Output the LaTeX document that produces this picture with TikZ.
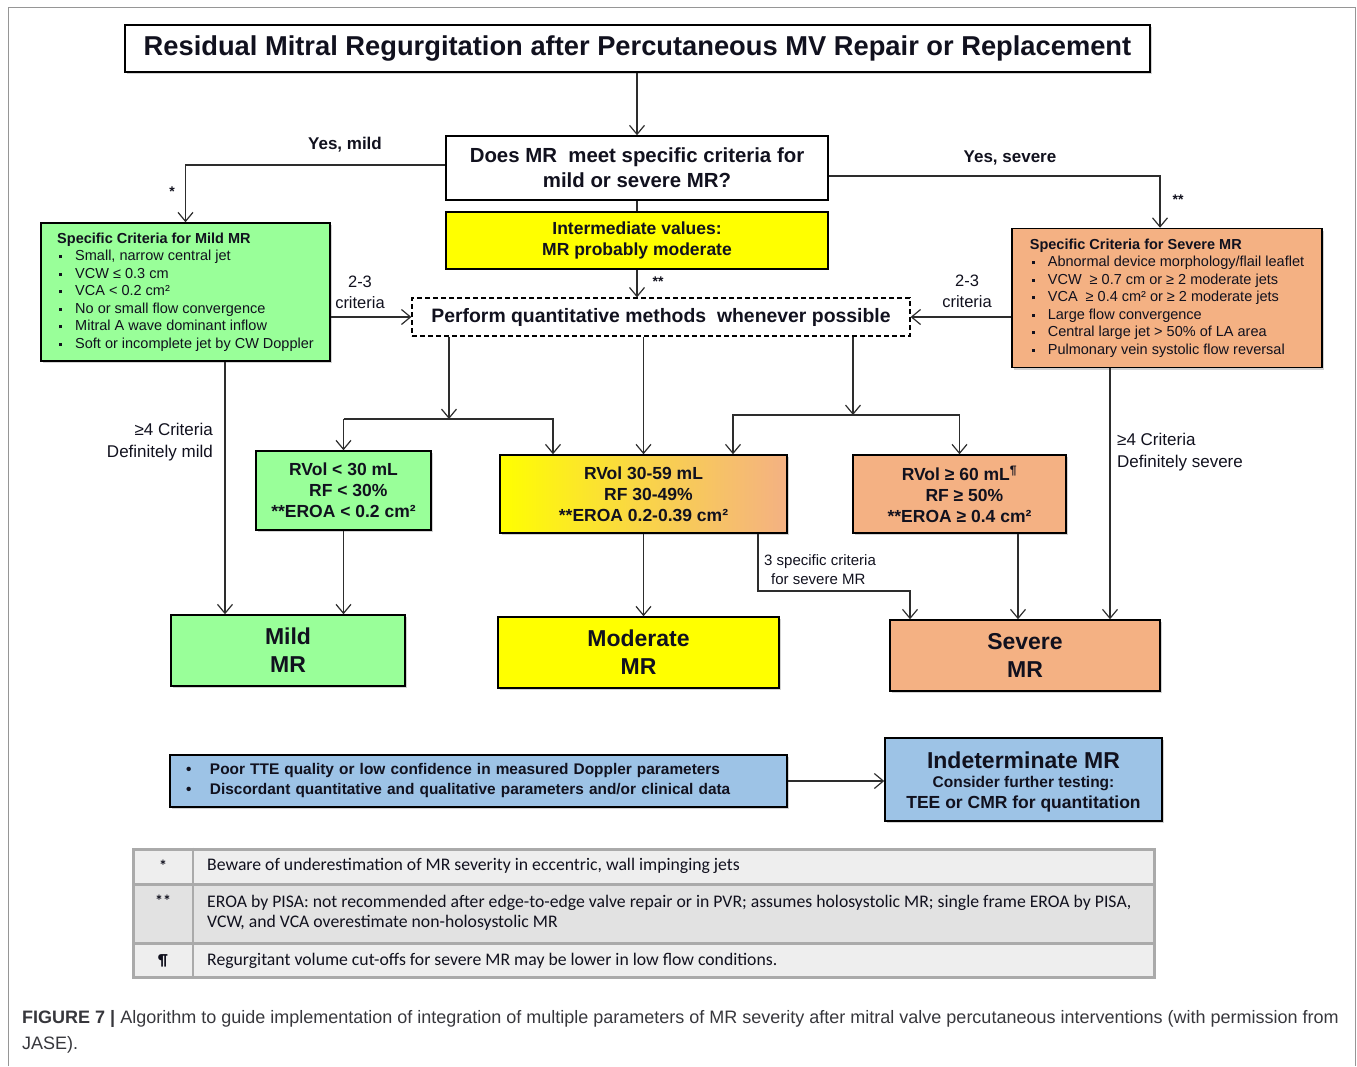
\documentclass[tikz,border=0pt]{standalone}
\usepackage{fontspec}
\setmainfont{Liberation Sans}
\newfontfamily\calfont{Carlito}
\usetikzlibrary{arrows.meta,shadows}
\definecolor{mildg}{RGB}{153,255,153}
\definecolor{sevo}{RGB}{244,177,131}
\definecolor{modY}{RGB}{255,255,0}
\definecolor{indb}{RGB}{157,195,230}
\definecolor{tabr1}{RGB}{238,238,238}
\definecolor{tabr2}{RGB}{226,226,226}
\definecolor{tabl}{RGB}{170,170,170}
\definecolor{txt}{RGB}{17,17,30}
\definecolor{linec}{RGB}{45,45,45}
\definecolor{capc}{RGB}{55,55,60}
\definecolor{framec}{RGB}{150,150,150}
\newcommand\myfs[2]{\fontsize{#1}{#2}\selectfont}
\newcommand\sqb{\makebox[18pt][l]{\hspace{2pt}\rule[2.5pt]{3pt}{3pt}}}
\newcommand\rbul{\makebox[24pt][l]{\textbullet}}
\begin{document}
\begin{tikzpicture}[x=1pt,y=-1pt,
  arr/.style={draw=linec, line width=1.2pt, -{Straight Barb[length=9pt,width=15pt,line width=1.2pt]}},
  ln/.style={draw=linec, line width=1.2pt},
  bx/.style={draw=black, line width=1.5pt, inner sep=0pt, align=center, text=txt},
  shad/.style={drop shadow={shadow xshift=2pt, shadow yshift=-2pt, opacity=0.35}},
  lbl/.style={inner sep=0pt, text=txt, align=center},
  trow/.style={draw=tabl, line width=3pt, inner sep=0pt, minimum width=1021pt},
  ttxt/.style={inner sep=0pt, text=txt, align=left, anchor=west, font=\calfont\myfs{17.7}{20}},
  tkey/.style={inner sep=0pt, text=txt, font=\calfont\bfseries\myfs{16}{18}}
]
\useasboundingbox (0,0) rectangle (1357,1066);
\draw[framec, line width=1pt] (8,1066) -- (8,7) -- (1355,7) -- (1355,1066);

% main boxes
\node[bx, shad, fill=white, minimum width=1025pt, minimum height=47pt, font=\bfseries\myfs{27.3}{32}] (title) at (637.5,48.5) {Residual Mitral Regurgitation after Percutaneous MV Repair or Replacement};
\node[bx, fill=white, minimum width=382pt, minimum height=64pt, font=\bfseries\myfs{20.4}{25}] (q) at (637,168) {Does MR\ \ meet specific criteria for\\mild or severe MR?};
\node[bx, fill=modY, minimum width=382pt, minimum height=57pt, font=\bfseries\myfs{17.5}{21}] (inter) at (637,240.5) {Intermediate values:\\MR probably moderate};
\node[bx, dash pattern=on 5pt off 3pt, line width=1.2pt, fill=white, minimum width=498pt, minimum height=38pt, font=\bfseries\myfs{19.4}{23}] (perf) at (661,317) {Perform quantitative methods\ \ whenever possible};

\node[bx, shad, fill=mildg, minimum width=289pt, minimum height=138pt, align=left, font=\myfs{14.5}{17.5}] (mildc) at (185.5,292) {\textbf{Specific Criteria for Mild MR}\\
\sqb Small, narrow central jet\\
\sqb VCW ≤ 0.3 cm\\
\sqb VCA < 0.2 cm²\\
\sqb No or small flow convergence\\
\sqb Mitral A wave dominant inflow\\
\sqb Soft or incomplete jet by CW Doppler};

\node[bx, shad, fill=sevo, minimum width=310pt, minimum height=139pt, align=left, font=\myfs{14.5}{17.5}] (sevc) at (1167,298) {\textbf{Specific Criteria for Severe MR}\\
\sqb Abnormal device morphology/flail leaflet\\
\sqb VCW\ \ ≥ 0.7 cm or ≥ 2 moderate jets\\
\sqb VCA\ \ ≥ 0.4 cm² or ≥ 2 moderate jets\\
\sqb Large flow convergence\\
\sqb Central large jet > 50\% of LA area\\
\sqb Pulmonary vein systolic flow reversal};

\node[bx, shad, fill=mildg, minimum width=175pt, minimum height=79pt, font=\bfseries\myfs{17.5}{21}] (gsmall) at (343.5,490.5) {RVol < 30 mL\\\ \ RF < 30\%\\**EROA < 0.2 cm²};
\node[bx, shad, shading=axis, left color=modY, right color=sevo, middle color=modY!45!sevo, minimum width=287pt, minimum height=78pt, font=\bfseries\myfs{17.5}{21}] (gmod) at (643.5,494) {RVol 30-59 mL\\\ \ RF 30-49\%\\**EROA 0.2-0.39 cm²};
\node[bx, shad, fill=sevo, minimum width=213pt, minimum height=78pt, font=\bfseries\myfs{17.5}{21}] (osmall) at (959.5,494) {RVol ≥ 60 mL\textsuperscript{¶}\\\ \ RF ≥ 50\%\\**EROA ≥ 0.4 cm²};

\node[bx, shad, fill=mildg, minimum width=234pt, minimum height=71pt, font=\bfseries\myfs{23}{28}] (mild) at (288,650.5) {Mild\\MR};
\node[bx, shad, fill=modY, minimum width=281pt, minimum height=71pt, font=\bfseries\myfs{23}{28}] (moder) at (638.5,652.5) {Moderate\\MR};
\node[bx, shad, fill=sevo, minimum width=270pt, minimum height=71pt, font=\bfseries\myfs{23}{28}] (severe) at (1025,655.5) {Severe\\MR};

\node[bx, shad, fill=indb, text width=585pt, inner xsep=16pt, minimum height=52pt, align=left, font=\bfseries\myfs{15.4}{20}] (poor) at (478.5,781) {\rbul Poor TTE quality or low confidence in measured Doppler parameters\\\rbul Discordant quantitative and qualitative parameters and/or clinical data};
\node[bx, shad, fill=indb, minimum width=277pt, minimum height=83pt] (indet) at (1023.5,779.5) {};
\node[lbl, font=\bfseries\myfs{23}{26}] (ind1) at (1023.5,760) {Indeterminate MR};
\node[lbl, font=\bfseries\myfs{15.5}{18}] (ind2) at (1023.5,784) {Consider further testing:};
\node[lbl, font=\bfseries\myfs{17.5}{20}] (ind3) at (1023.5,804) {TEE or CMR for quantitation};

% labels
\node[lbl, font=\bfseries\myfs{17}{20}] (ym) at (345,145) {Yes, mild};
\node[lbl, font=\bfseries\myfs{17}{20}] (ys) at (1010,158) {Yes, severe};
\node[lbl, font=\bfseries\myfs{14}{16}] (st1) at (172,192) {*};
\node[lbl, font=\bfseries\myfs{14}{16}] (st2) at (1178,200) {**};
\node[lbl, font=\bfseries\myfs{14}{16}] (st3) at (658,282) {**};
\node[lbl, font=\myfs{16.5}{21}] (c23l) at (360,292) {2-3\\criteria};
\node[lbl, font=\myfs{16.5}{21}] (c23r) at (967,291) {2-3\\criteria};
\node[lbl, align=right, anchor=east, font=\myfs{17}{22}] (dm) at (213,442) {≥4 Criteria\\Definitely mild};
\node[lbl, align=left, anchor=west, font=\myfs{17}{22}] (ds) at (1117,452) {≥4 Criteria\\Definitely severe};
\node[lbl, align=left, anchor=west, font=\myfs{15}{19}] (sp3) at (764,570) {3 specific criteria\\\hspace*{7pt}for severe MR};

% junction coordinates
\coordinate (jl) at (449,419);
\coordinate (jl2) at (553,419);
\coordinate (jr) at (853,415);
\coordinate (jr2) at (733,415);
\coordinate (ml) at (225,400);
\coordinate (mr1) at (758,591);
\coordinate (mr2) at (910,591);
\coordinate (sr) at (1018,590);
\coordinate (sr2) at (1110,500);

% connectors
\draw[arr] (title.south -| q.north) -- (q.north);
\draw[ln] (q.south) -- (inter.north);
\draw[arr] ([yshift=3pt]q.west) -| (mildc.north);
\draw[arr] ([yshift=-8pt]q.east) -| ([xshift=-7pt]sevc.north);
\draw[arr] (inter.south) -- (inter.south |- perf.north);
\draw[arr] (perf.west -| mildc.east) -- (perf.west);
\draw[arr] (perf.east -| sevc.west) -- (perf.east);

\draw[arr] (jl |- perf.south) -- (jl);
\draw[arr] (gsmall.north |- jl) -- (gsmall.north);
\draw[arr] (gsmall.north |- jl) -- (jl2) -- (jl2 |- gmod.north);
\draw[arr] (perf.south -| gmod.north) -- (gmod.north);
\draw[arr] (jr |- perf.south) -- (jr);
\draw[arr] (osmall.north |- jr) -- (osmall.north);
\draw[arr] (osmall.north |- jr) -- (jr2) -- (jr2 |- gmod.north);

\draw[arr] (mildc.south -| ml) -- (ml |- mild.north);
\draw[arr] (gsmall.south) -- (gsmall.south |- mild.north);
\draw[arr] (gmod.south) -- (gmod.south |- moder.north);
\draw[arr] (gmod.south -| mr1) -- (mr1) -- (mr2) -- (mr2 |- severe.north);
\draw[arr] (osmall.south -| sr) -- (sr |- severe.north);
\draw[arr] (sevc.south -| sr2) -- (sr2 |- severe.north);
\draw[arr] (poor.east) -- (poor.east -| indet.west);

% footnote table
\node[trow, fill=tabr1, minimum height=35pt] (r1) at (643.5,866.5) {};
\node[trow, fill=tabr2, minimum height=59pt] (r2) at (643.5,913.5) {};
\node[trow, fill=tabr1, minimum height=34pt] (r3) at (643.5,960) {};
\coordinate (cd) at (193,0);
\draw[tabl, line width=2pt] (r1.north -| cd) -- (r3.south -| cd);
\node[tkey] (k1) at (163,866) {*};
\node[tkey] (k2) at (163,901) {**};
\node[tkey] (k3) at (163,961) {¶};
\node[ttxt] (t1) at (207,866) {Beware of underestimation of MR severity in eccentric, wall impinging jets};
\node[ttxt] (t2) at (207,913) {EROA by PISA: not recommended after edge-to-edge valve repair or in PVR; assumes holosystolic MR; single frame EROA by PISA,\\VCW, and VCA overestimate non-holosystolic MR};
\node[ttxt] (t3) at (207,961) {Regurgitant volume cut-offs for severe MR may be lower in low flow conditions.};

% caption
\node[anchor=north west, align=left, inner sep=0pt, text=capc, font=\myfs{18}{26}] (cap) at (22,1010) {\textbf{FIGURE 7 |} Algorithm to guide implementation of integration of multiple parameters of MR severity after mitral valve percutaneous interventions (with permission from\\JASE).};
\end{tikzpicture}
\end{document}
